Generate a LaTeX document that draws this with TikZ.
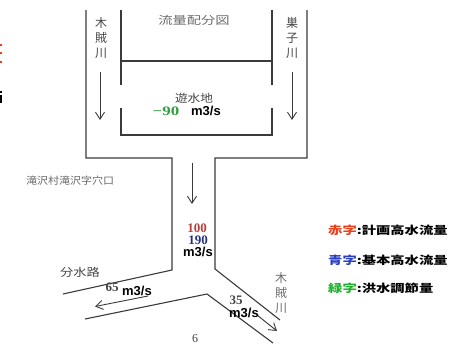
\documentclass[tikz,border=0pt]{standalone}
\usepackage{fontspec}
\usetikzlibrary{arrows.meta}
\newfontfamily\jpf{Noto Sans CJK JP}
\newfontfamily\serf{Liberation Serif}
\newfontfamily\sansf{Liberation Sans}
\definecolor{ln}{HTML}{3A3A3A}
\definecolor{txtgray}{HTML}{444444}
\definecolor{ltgray}{HTML}{6A6A6A}
\definecolor{numred}{HTML}{B83A3A}
\definecolor{numblue}{HTML}{22307F}
\definecolor{numgreen}{HTML}{2FA040}
\definecolor{legred}{HTML}{E8401A}
\definecolor{legblue}{HTML}{2A3FC0}
\definecolor{leggreen}{HTML}{22B030}
\newcommand{\hsc}[2]{\scalebox{#1}[1]{#2}}
\begin{document}
\begin{tikzpicture}[x=1pt,y=-1pt,
  chan/.style={draw=ln,line width=1.1pt},
  flow/.style={draw=ln,line width=0.9pt,-{Straight Barb[length=7pt,width=9pt]}},
  lbl/.style={inner sep=0pt,text=txtgray},
  vlbl/.style={lbl,align=center,font=\jpf\fontsize{12}{15}\selectfont},
  jlbl/.style={lbl,font=\jpf\fontsize{11}{13}\selectfont},
  unit/.style={lbl,text=black,font=\sansf\bfseries\fontsize{13}{15}\selectfont},
  num/.style={lbl,font=\serf\bfseries\fontsize{13}{15}\selectfont},
  leg/.style={lbl,anchor=west,text=black,font=\jpf\bfseries\fontsize{11}{13}\selectfont}]
\useasboundingbox (0,0) rectangle (452,346);
% edge fragments
\draw[legred,line width=1.5pt] (0,45) -- (2,45) (0,53) -- (2,53) (0,62) -- (2,62);
\draw[black,line width=1.5pt] (0,92) -- (2,92) (1,95) -- (1,103);
% channels
\draw[chan] (86,10) -- (86,158) -- (172,158) -- (172,270) -- (63,294);
\draw[chan] (307,10) -- (307,158) -- (215,158) -- (215,269) -- (280,320);
\draw[chan] (85,319) -- (207,294) -- (273,343);
% reservoir
\draw[chan] (121,10) -- (121,85);
\draw[chan] (121,108) -- (121,135) -- (272,135) -- (272,108);
\draw[chan] (272,85) -- (272,10);
\draw[chan] (121,61) -- (272,61);
% coordinates for arrows
\coordinate (a1s) at (100,72); \coordinate (a1e) at (100,120);
\coordinate (a2s) at (292,72); \coordinate (a2e) at (292,120);
\coordinate (a3s) at (192,163); \coordinate (a3e) at (192,204);
\coordinate (a4s) at (148,296); \coordinate (a4e) at (95,306.5);
\coordinate (a5s) at (257,315); \coordinate (a5e) at (277,331);
\draw[flow] (a1s) -- (a1e);
\draw[flow] (a2s) -- (a2e);
\draw[flow] (a3s) -- (a3e);
\draw[flow] (a4s) -- (a4e);
\draw[flow] (a5s) -- (a5e);
% labels
\node[vlbl] (kusa1) at (101,38) {木\\賊\\川};
\node[vlbl] (suko) at (292,38) {巣\\子\\川};
\node[jlbl,text=ltgray] (title) at (194,20) {\hsc{1.3}{流量配分図}};
\node[jlbl] (yusui) at (194,98) {\hsc{1.15}{遊水地}};
\node[num,text=numgreen] (m90) at (166,111) {\hsc{1.3}{−90}};
\node[unit] (u1) at (206,111) {m3/s};
\node[jlbl,text=ltgray,font=\jpf\fontsize{10}{12}\selectfont] (taki) at (70,181) {\hsc{1.1}{滝沢村滝沢字穴口}};
\node[num,text=numred] (n100) at (197,228) {100};
\node[num,text=numblue] (n190) at (198,240) {190};
\node[unit] (u2) at (198,252) {m3/s};
\node[jlbl] (bunsui) at (80,272) {\hsc{1.2}{分水路}};
\node[num,text=txtgray] (n65) at (112,287) {65};
\node[unit] (u3) at (137,291) {m3/s};
\node[num,text=txtgray] (n35) at (236,300) {35};
\node[unit] (u4) at (244,313) {m3/s};
\node[vlbl,text=ltgray] (kusa2) at (281,293) {木\\賊\\川};
\node[num,text=txtgray,font=\serf\fontsize{12}{14}\selectfont] (six) at (195,339) {6};
% legend
\node[leg] (lg1) at (328,230) {\hsc{1.3}{\textcolor{legred}{赤字}:計画高水流量}};
\node[leg] (lg2) at (328,260) {\hsc{1.3}{\textcolor{legblue}{青字}:基本高水流量}};
\node[leg] (lg3) at (328,288) {\hsc{1.3}{\textcolor{leggreen}{緑字}:洪水調節量}};
\end{tikzpicture}
\end{document}
